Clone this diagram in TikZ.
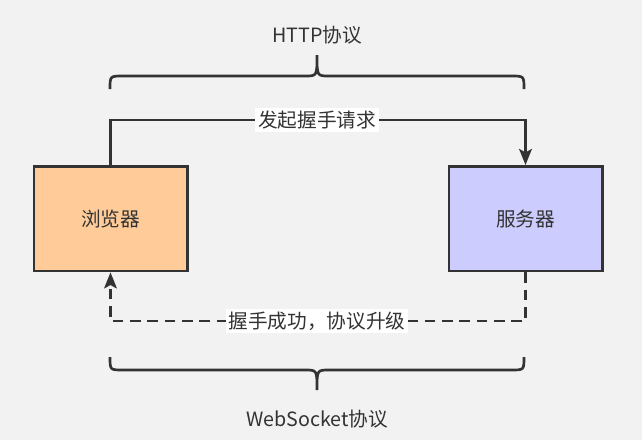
\documentclass[tikz,border=0pt]{standalone}
\usepackage{fontspec}
\setmainfont{Noto Sans CJK SC}
\usetikzlibrary{arrows.meta, positioning}
\usepackage{xcolor}
\definecolor{bgcol}{HTML}{F2F2F2}
\definecolor{linecol}{HTML}{333333}
\definecolor{browsercol}{HTML}{FFCC99}
\definecolor{servercol}{HTML}{CCCCFF}

\begin{document}
\begin{tikzpicture}[
x=0.75pt, y=-0.75pt,
font=\fontsize{14.75}{17}\selectfont,
text=linecol,
box/.style={draw=linecol,
line width=2pt,
rectangle,
minimum width=115pt,
minimum height=78.5pt,
align=center},
arrow/.style={-{Stealth[length=12pt, width=9.5pt, inset=2.5pt]}, draw=linecol, line width=2pt},
lbl/.style={fill=white, inner sep=2pt},
brace/.style={draw=linecol, line width=2pt}
]

\useasboundingbox[fill=bgcol] (0,0) rectangle (642,440);

\node[box, fill=browsercol] (browser) at (110.5,218.7) {浏览器};
\node[box, fill=servercol] (server) at (525.5,218.7) {服务器};

\node (http) at (317,35) {HTTP协议};
\node (ws) at (317,419) {WebSocket协议};

\draw[arrow] (browser.north) |- (317,120) node[lbl] (req) {发起握手请求} -| (server.north);
\draw[arrow, dash pattern=on 8pt off 5pt] (server.south) |- (317,321) node[lbl] (resp) {握手成功，协议升级} -| (browser.south);

\draw[brace] (110,89) .. controls (110,76) .. (123,76) -- (305,76)
  .. controls (317,76) .. (317,55) .. controls (317,76) .. (329,76)
  -- (511,76) .. controls (524,76) .. (524,89);
\draw[brace] (110,357) .. controls (110,370) .. (123,370) -- (305,370)
  .. controls (317,370) .. (317,390) .. controls (317,370) .. (329,370)
  -- (511,370) .. controls (524,370) .. (524,357);

\end{tikzpicture}
\end{document}
